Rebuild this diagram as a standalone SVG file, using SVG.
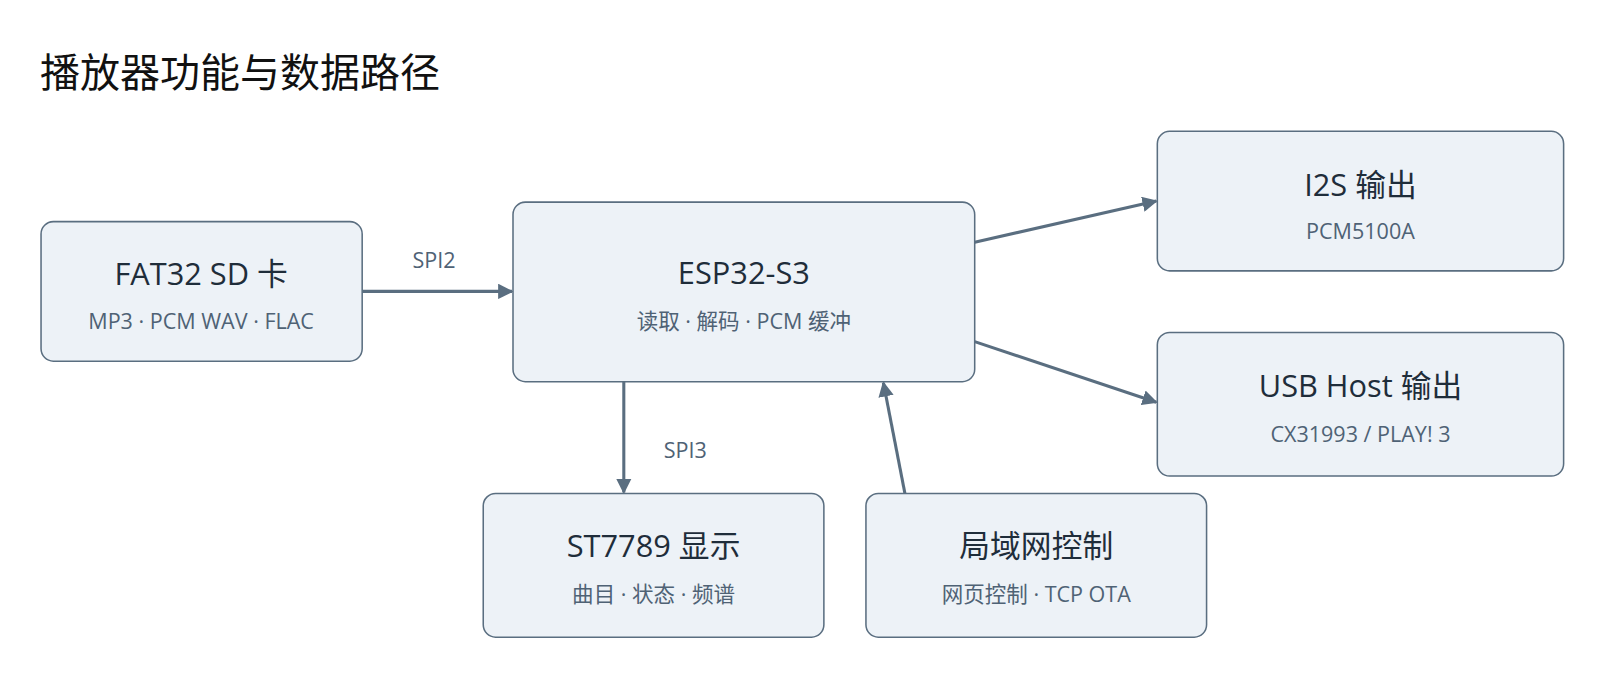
<svg xmlns="http://www.w3.org/2000/svg" width="1600" height="680" viewBox="0 0 1600 680">
<style>
.box{fill:#edf2f7;stroke:#5a6e80;stroke-width:1.5}
.t{font-family:"Open Sans","Noto Sans CJK SC",sans-serif;font-size:30px;fill:#1f2d3a;text-anchor:middle}
.s{font-family:"Open Sans","Noto Sans CJK SC",sans-serif;font-size:21px;fill:#4f6275;text-anchor:middle}
.c{stroke:#5a6e80;stroke-width:3;fill:none;marker-end:url(#a)}
</style>
<defs><marker id="a" viewBox="0 0 10 10" refX="9" refY="5" markerWidth="5" markerHeight="5" orient="auto"><path d="M0,0L10,5L0,10z" fill="#5a6e80"/></marker></defs>
<rect width="1600" height="680" fill="#fff"/>
<g transform="scale(1.026)">
<text x="39" y="85" font-family="Noto Sans CJK SC,sans-serif" font-size="39" fill="#111">播放器功能与数据路径</text>
<g id="edges">
<path class="c" d="M353,284H499"/>
<text class="s" x="423" y="261">SPI2</text>
<path class="c" d="M950,236L1127,196"/>
<path class="c" d="M950,333L1127,392"/>
<path class="c" d="M608,372V480"/>
<text class="s" x="668" y="446">SPI3</text>
<path class="c" d="M882,481L861,373"/>
</g>
<g id="fat32"><rect class="box" x="40" y="216" width="313" height="136" rx="12"/><text class="t" x="196" y="278">FAT32 SD 卡</text><text class="s" x="196" y="321">MP3 · PCM WAV · FLAC</text></g>
<g id="esp32"><rect class="box" x="500" y="197" width="450" height="175" rx="12"/><text class="t" x="725" y="277">ESP32-S3</text><text class="s" x="725" y="321">读取 · 解码 · PCM 缓冲</text></g>
<g id="i2s"><rect class="box" x="1128" y="128" width="396" height="136" rx="12"/><text class="t" x="1326" y="191">I2S 输出</text><text class="s" x="1326" y="233">PCM5100A</text></g>
<g id="usb"><rect class="box" x="1128" y="324" width="396" height="140" rx="12"/><text class="t" x="1326" y="387">USB Host 输出</text><text class="s" x="1326" y="431">CX31993 / PLAY! 3</text></g>
<g id="st7789"><rect class="box" x="471" y="481" width="332" height="140" rx="12"/><text class="t" x="637" y="543">ST7789 显示</text><text class="s" x="637" y="587">曲目 · 状态 · 频谱</text></g>
<g id="lan"><rect class="box" x="844" y="481" width="332" height="140" rx="12"/><text class="t" x="1010" y="543">局域网控制</text><text class="s" x="1010" y="587">网页控制 · TCP OTA</text></g>
</g>
</svg>
